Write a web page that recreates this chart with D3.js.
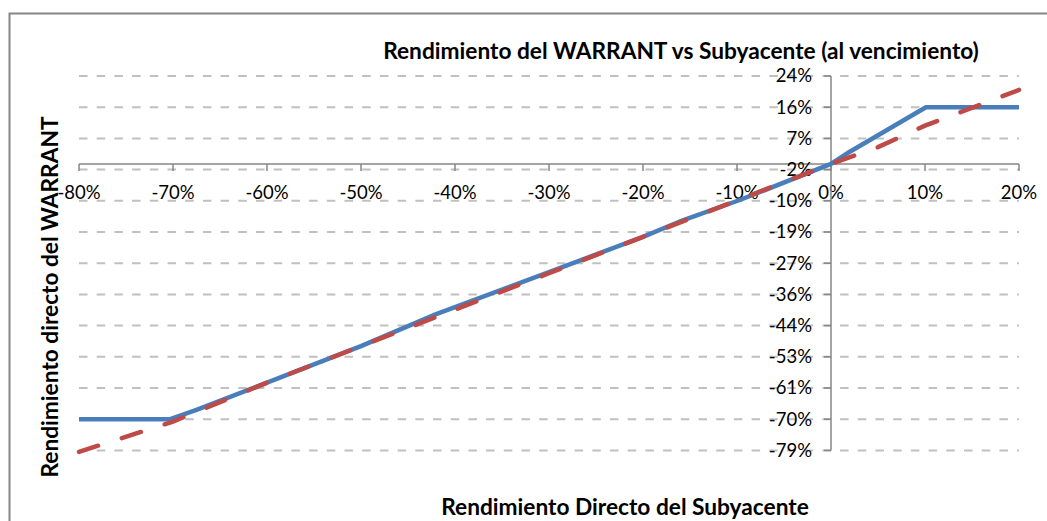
<!DOCTYPE html>
<html>
  <head>
    <meta charset='UTF-8'/>
    <script src="https://cdn.jsdelivr.net/npm/d3@7"></script>
    <style>
      body { margin : 0; background : white; }
      text { font-family : Lato, "Open Sans", sans-serif; fill : #000; }
      .tick { font-size : 18.5px; }
      .ttl { font-size : 22.7px; font-weight : bold; }
      .grid { stroke : #c0c0c0; stroke-width : 2; stroke-dasharray : 8.5 9.2; }
      .ax { stroke : #868686; stroke-width : 1.5; fill : none; }
    </style>
  </head>
  <body>
    <svg id='fig' width='1047' height='521'></svg>
    <script>
      // rendimiento del subyacente (eje x)
      const xTicks = [-0.8, -0.7, -0.6, -0.5, -0.4, -0.3, -0.2, -0.1, 0, 0.1, 0.2]
      // eje y: Excel pone las marcas en valores "raros"
      const yTicks = [0.2412, 0.1556, 0.0700, -0.0156, -0.1012, -0.1868, -0.2724,
		      -0.3580, -0.4436, -0.5292, -0.6148, -0.7004, -0.7860]

      // warrant (azul)
      const warrantX = [-0.80, -0.703, -0.675, -0.60, -0.50, -0.42, -0.30, -0.20, -0.157, -0.097, 0.00, 0.02, 0.101, 0.15, 0.20]
      const warrantY = [-0.7004, -0.7004, -0.675, -0.60, -0.50, -0.412, -0.297, -0.20, -0.154, -0.099, 0.00, 0.0335, 0.1556, 0.1556, 0.1556]

      // subyacente (rojo, discontinuo)
      const subX = [-0.80, -0.70, -0.60, -0.50, -0.40, -0.30, -0.20, -0.10, 0.00, 0.05, 0.10, 0.20]
      const subY = [-0.79, -0.707, -0.60, -0.50, -0.40, -0.30, -0.20, -0.10, 0.00, 0.046, 0.105, 0.203]

      const title = "Rendimiento del WARRANT vs Subyacente (al vencimiento)"
      const xTitle = "Rendimiento Directo del Subyacente"
      const yTitle = "Rendimiento directo del WARRANT"

      const svg = d3.select("#fig")
      const pct = d3.formatLocale({decimal : ".", thousands : ",", grouping : [3],
				   currency : ["", ""], minus : "-"}).format(".0%")

      const x = d3.scaleLinear().domain([-0.8, 0.2]).range([79, 1019])
      const y = d3.scaleLinear().domain([-0.786, 0.2412]).range([450.4, 76])

      // marco del gráfico
      svg.append("rect")
	  .attr("x", 9.5).attr("y", 13.5)
	  .attr("width", 1060).attr("height", 530)
	  .attr("fill", "white")
	  .attr("stroke", "#868686").attr("stroke-width", 2)

      // líneas de división
      svg.append("g")
	  .selectAll("line")
	  .data(yTicks)
	  .join("line")
	  .attr("class", "grid")
	  .attr("x1", x(-0.8)).attr("x2", x(0.2))
	  .attr("y1", d => y(d)).attr("y2", d => y(d))

      // eje x (cruza en 0)
      const gx = svg.append("g")
      gx.append("line").attr("class", "ax")
	  .attr("x1", x(-0.8)).attr("x2", x(0.2))
	  .attr("y1", y(0)).attr("y2", y(0))
      gx.selectAll(".xt")
	  .data(xTicks)
	  .join("line")
	  .attr("class", "ax")
	  .attr("x1", d => x(d)).attr("x2", d => x(d))
	  .attr("y1", y(0)).attr("y2", y(0) + 7)
      gx.selectAll("text")
	  .data(xTicks)
	  .join("text")
	  .attr("class", "tick")
	  .attr("x", d => x(d))
	  .attr("y", 199)
	  .attr("text-anchor", "middle")
	  .text(d => pct(d))

      // eje y (cruza en 0)
      const gy = svg.append("g")
      gy.append("line").attr("class", "ax")
	  .attr("x1", x(0)).attr("x2", x(0))
	  .attr("y1", y(yTicks[0])).attr("y2", y(yTicks[yTicks.length - 1]))
      gy.selectAll(".yt")
	  .data(yTicks)
	  .join("line")
	  .attr("class", "ax")
	  .attr("x1", x(0) - 7).attr("x2", x(0))
	  .attr("y1", d => y(d)).attr("y2", d => y(d))
      gy.selectAll("text")
	  .data(yTicks)
	  .join("text")
	  .attr("class", "tick")
	  .attr("x", x(0) - 19)
	  .attr("y", d => y(d))
	  .attr("dy", "0.35em")
	  .attr("text-anchor", "end")
	  .text(d => pct(d))

      // series
      const line = d3.line().x(d => x(d[0])).y(d => y(d[1]))

      svg.append("path")
	  .datum(d3.zip(warrantX, warrantY))
	  .attr("d", line)
	  .attr("fill", "none")
	  .attr("stroke", "#4a7ebb")
	  .attr("stroke-width", 4.5)
	  .attr("stroke-linejoin", "round")

      svg.append("path")
	  .datum(d3.zip(subX, subY))
	  .attr("d", line)
	  .attr("fill", "none")
	  .attr("stroke", "#be4b48")
	  .attr("stroke-width", 4.5)
	  .attr("stroke-linecap", "round")
	  .attr("stroke-dasharray", "20 25")

      // títulos
      svg.append("text").attr("class", "ttl")
	  .attr("x", 681).attr("y", 59)
	  .attr("text-anchor", "middle")
	  .text(title)

      svg.append("text").attr("class", "ttl")
	  .attr("x", 625).attr("y", 515)
	  .attr("text-anchor", "middle")
	  .text(xTitle)

      svg.append("text").attr("class", "ttl")
	  .attr("transform", "translate(58,297) rotate(-90)")
	  .attr("text-anchor", "middle")
	  .text(yTitle)
    </script>
  </body>
</html>
